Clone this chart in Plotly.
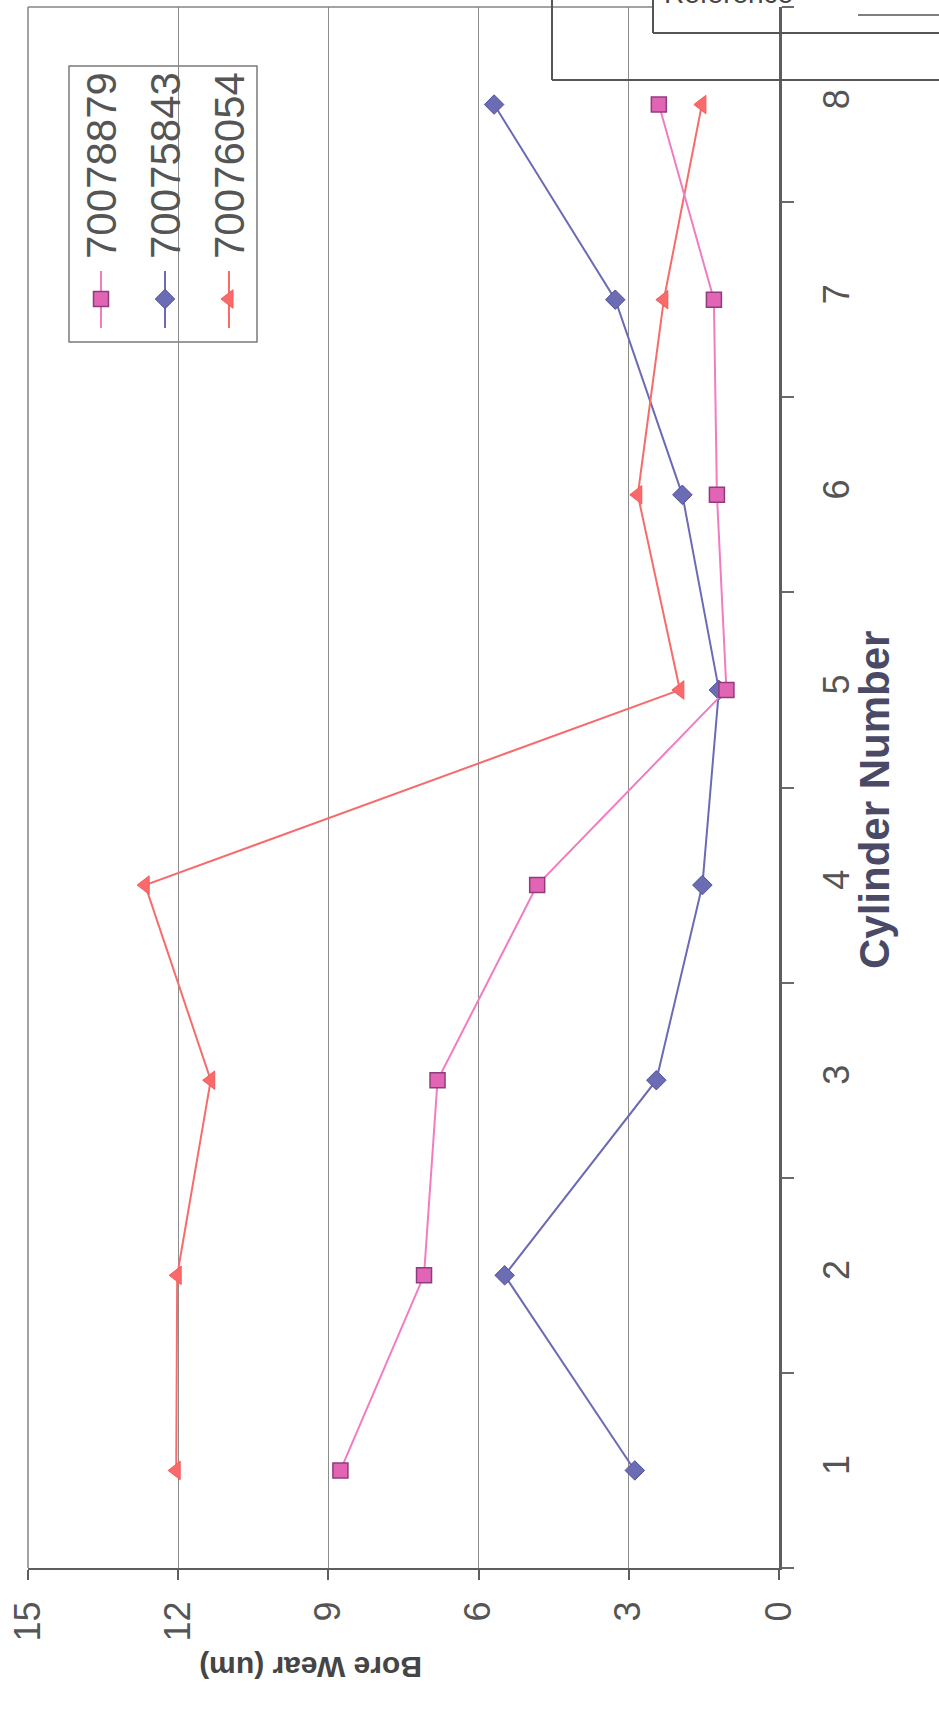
import plotly.graph_objects as go

# Bore wear per cylinder for three engines
cylinders = [1, 2, 3, 4, 5, 6, 7, 8]
wear_70078879 = [8.76, 7.09, 6.82, 4.83, 1.05, 1.24, 1.30, 2.40]
wear_70075843 = [2.88, 5.48, 2.45, 1.53, 1.20, 1.93, 3.27, 5.69]
wear_70076054 = [12.04, 12.02, 11.35, 12.66, 1.98, 2.82, 2.30, 1.54]
series_names = ["70078879", "70075843", "70076054"]
wear_ticks = [0, 3, 6, 9, 12, 15]

W, H = 939, 1714
ML, MR, MT, MB = 28, 160, 7, 146
PW = W - ML - MR
PH = H - MT - MB

FONT = "Liberation Sans, Arial, sans-serif"


def px(x):
    return (x - ML) / PW


def py(y):
    return 1 - (y - MT) / PH


styles = {
    "70078879": dict(line=dict(color="#F27CC0", width=2),
                     marker=dict(symbol="square", size=15, color="#E264B4",
                                 line=dict(color="#8E3C7E", width=1.5))),
    "70075843": dict(line=dict(color="#6B6BB5", width=2),
                     marker=dict(symbol="diamond", size=15, color="#6C6CB4",
                                 line=dict(color="#50509A", width=1))),
    "70076054": dict(line=dict(color="#F86B6B", width=2),
                     marker=dict(symbol="triangle-left", size=16, color="#FA6A6A",
                                 line=dict(color="#F05C5C", width=1))),
}
values = {"70078879": wear_70078879, "70075843": wear_70075843,
          "70076054": wear_70076054}

fig = go.Figure()
for name in ["70075843", "70076054", "70078879"]:
    fig.add_trace(go.Scatter(x=values[name], y=cylinders, mode="lines+markers",
                             name=name, showlegend=False, **styles[name]))

# legend glyphs, laid out sideways inside the plot area (pixel axes)
leg_x = [101, 165, 229]
for name, lx in zip(series_names, leg_x):
    st = styles[name]
    fig.add_trace(go.Scatter(x=[lx - ML, lx - ML], y=[271 - MT, 328 - MT],
                             mode="lines", line=st["line"], xaxis="x2", yaxis="y2",
                             showlegend=False, hoverinfo="skip"))
    fig.add_trace(go.Scatter(x=[lx - ML], y=[299 - MT], mode="markers",
                             marker=st["marker"], xaxis="x2", yaxis="y2",
                             showlegend=False, hoverinfo="skip"))

shapes = [
    # plot area frame (top and left)
    dict(type="line", xref="paper", yref="paper", x0=0, x1=px(653), y0=1, y1=1,
         line=dict(color="#858585", width=1.5)),
    dict(type="line", xref="paper", yref="paper", x0=0, x1=0, y0=0, y1=1,
         line=dict(color="#858585", width=1.5)),
    # legend box
    dict(type="rect", xref="paper", yref="paper", x0=px(69), x1=px(257),
         y0=py(342), y1=py(66), line=dict(color="#7a7a7a", width=1.5),
         fillcolor="rgba(255,255,255,0)", layer="below"),
    # neighbouring chart's legend box at the top edge
    dict(type="line", xref="paper", yref="paper", x0=px(552), x1=px(552),
         y0=py(80), y1=py(-5), line=dict(color="#555555", width=2)),
    dict(type="line", xref="paper", yref="paper", x0=px(552), x1=px(945),
         y0=py(80), y1=py(80), line=dict(color="#555555", width=2)),
    dict(type="line", xref="paper", yref="paper", x0=px(653), x1=px(653),
         y0=py(33), y1=py(-5), line=dict(color="#555555", width=2)),
    dict(type="line", xref="paper", yref="paper", x0=px(653), x1=px(945),
         y0=py(33), y1=py(33), line=dict(color="#555555", width=2)),
    dict(type="line", xref="paper", yref="paper", x0=px(858), x1=px(945),
         y0=py(15), y1=py(15), line=dict(color="#555555", width=1.5)),
]

annotations = [
    dict(text="<b>Bore Wear (um)</b>", xref="paper", yref="paper",
         x=px(311), y=py(1668), xanchor="center", yanchor="middle",
         showarrow=False, textangle=180,
         font=dict(family=FONT, size=30, color="#454545")),
    dict(text="<b>Cylinder Number</b>", xref="paper", yref="paper",
         x=px(874), y=py(800), xanchor="center", yanchor="middle",
         showarrow=False, textangle=-90,
         font=dict(family=FONT, size=42, color="#4A4A66")),
    dict(text="Reference", xref="paper", yref="paper", x=px(662), y=py(11),
         xanchor="left", yanchor="bottom", showarrow=False,
         font=dict(family=FONT, size=28, color="#444444")),
]
for name, lx in zip(series_names, leg_x):
    annotations.append(dict(text=name, xref="paper", yref="paper",
                            x=px(lx), y=py(166), xanchor="center", yanchor="middle",
                            showarrow=False, textangle=-90,
                            font=dict(family=FONT, size=42, color="#555555")))

fig.update_layout(
    width=W, height=H,
    margin=dict(l=ML, r=MR, t=MT, b=MB),
    paper_bgcolor="white", plot_bgcolor="white",
    showlegend=False,
    xaxis=dict(range=[15, 0], tickvals=wear_ticks, ticktext=[str(v) for v in wear_ticks],
               tickangle=-90, showgrid=True, gridcolor="#8c8c8c", gridwidth=1.2,
               zeroline=False, showline=True, linecolor="#5e5e5e", linewidth=2,
               ticks="outside", ticklen=10, tickcolor="#5e5e5e", tickwidth=1.5,
               ticklabelstandoff=7,
               tickfont=dict(family=FONT, size=36, color="#555555")),
    yaxis=dict(range=[0.5, 8.5], side="right", tickvals=cylinders,
               ticktext=[str(c) for c in cylinders], tickangle=-90,
               showgrid=False, zeroline=False, showline=True,
               linecolor="#5e5e5e", linewidth=2.5, ticks="",
               minor=dict(tickvals=[c + 0.5 for c in [0] + cylinders],
                          ticks="outside", ticklen=12, tickcolor="#6a6a6a",
                          tickwidth=1.5, showgrid=False),
               ticklabelstandoff=24,
               tickfont=dict(family=FONT, size=36, color="#555555")),
    xaxis2=dict(overlaying="x", range=[0, PW], visible=False),
    yaxis2=dict(overlaying="y", range=[PH, 0], visible=False),
    shapes=shapes,
    annotations=annotations,
)

fig.write_html("out.html")
